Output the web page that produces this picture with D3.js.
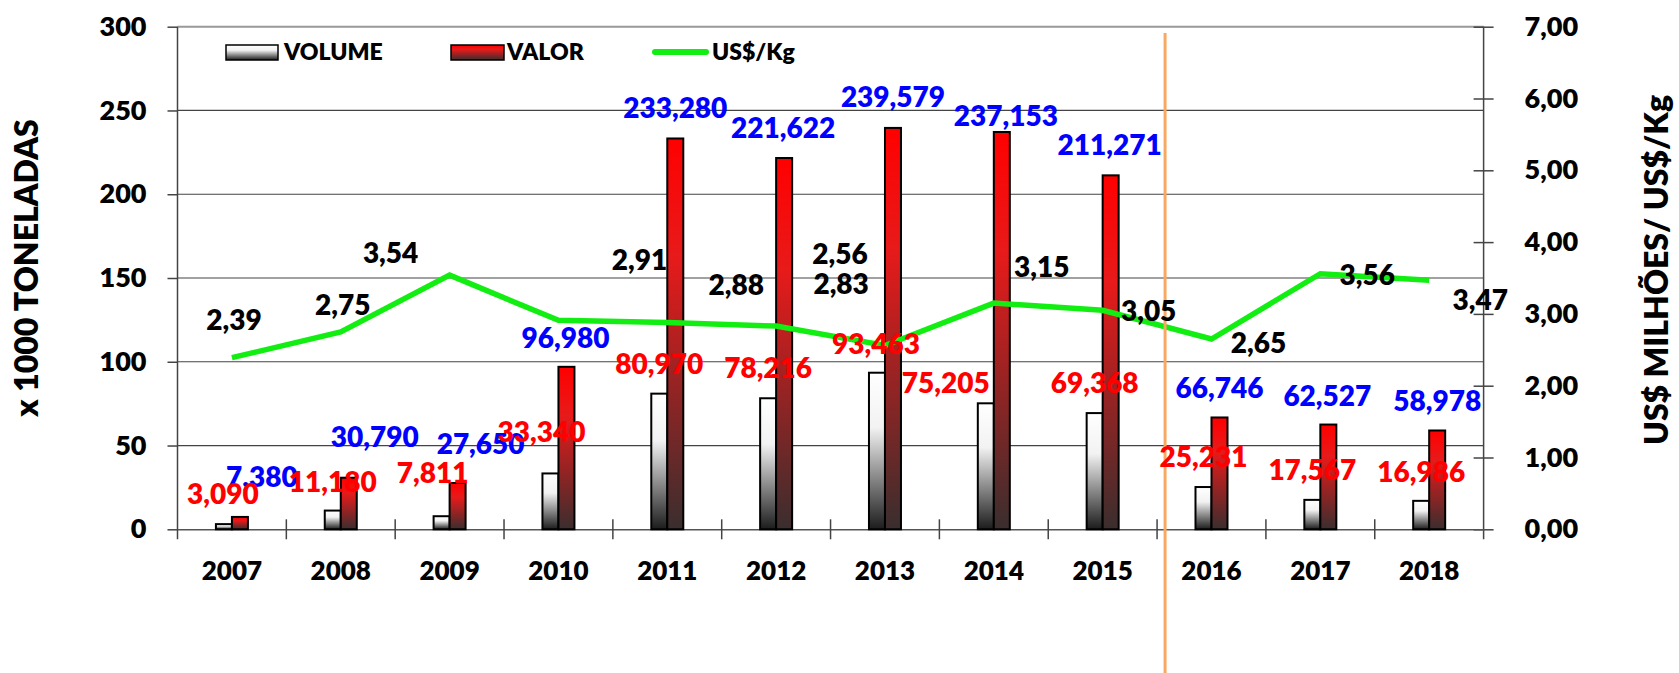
<!DOCTYPE html>
<html>
<head>
<meta charset="utf-8">
<script src="https://cdn.jsdelivr.net/npm/d3@7"></script>
<style>
  body { margin: 0; background: #fff; }
  svg { display: block; font-family: Lato, "Open Sans", sans-serif; font-weight: 800; }
</style>
</head>
<body>
<div id="chart"></div>
<script>
// data
const years = ["2007", "2008", "2009", "2010", "2011", "2012", "2013", "2014", "2015", "2016", "2017", "2018"]
const volume = [3.090, 11.180, 7.811, 33.340, 80.970, 78.216, 93.463, 75.205, 69.368, 25.231, 17.567, 16.986] // x 1000 t
const valor = [7.380, 30.790, 27.650, 96.980, 233.280, 221.622, 239.579, 237.153, 211.271, 66.746, 62.527, 58.978] // US$ milhoes
const price = [2.39, 2.75, 3.54, 2.91, 2.88, 2.83, 2.56, 3.15, 3.05, 2.65, 3.56, 3.47] // US$/Kg
const leftTicks = [0, 50, 100, 150, 200, 250, 300]
const rightTicks = [0, 1, 2, 3, 4, 5, 6, 7]

// labels were moved by hand in the original, keep their shifts [dx, dy]
const valorShift = [[22, -40], [26, -41], [23, -39], [-1, -29], [0, -31], [-1, -30], [0, -31], [4, -16], [-1, -30], [0, -30], [-1, -29], [0, -30]]
const volumeShift = [[-1, -30], [0, -29], [-9, -43], [-9, -42], [0, -30], [0, -30], [-1, -29], [-40, -20], [0, -30], [0, -30], [0, -30], [0, -29]]
const priceShift = [[2, -38], [2, -27], [-59, -22], [81, -60], [69, -38], [65, -42], [-45, -92], [48, -36], [46, 1], [47, 4], [47, 1], [51, 20]]

const W = 1679, H = 673
const plotL = 177.5, plotR = 1483.6, plotT = 26.7, plotB = 529.3
const barW = 16

const fmt3 = v => d3.format(".3f")(v).replace(".", ",")
const fmt2 = v => d3.format(".2f")(v).replace(".", ",")

const svg = d3.select("#chart").append("svg")
    .attr("width", W)
    .attr("height", H)

// gradients for the bars
const defs = svg.append("defs")
const gVol = defs.append("linearGradient").attr("id", "gVol")
    .attr("x1", 0).attr("y1", 0).attr("x2", 0).attr("y2", 1)
gVol.append("stop").attr("offset", "0").attr("stop-color", "#ffffff")
gVol.append("stop").attr("offset", "0.35").attr("stop-color", "#f2f2f2")
gVol.append("stop").attr("offset", "1").attr("stop-color", "#1c1c1c")
const gVal = defs.append("linearGradient").attr("id", "gVal")
    .attr("x1", 0).attr("y1", 0).attr("x2", 0).attr("y2", 1)
gVal.append("stop").attr("offset", "0").attr("stop-color", "#ff0000")
gVal.append("stop").attr("offset", "0.3").attr("stop-color", "#e81a1a")
gVal.append("stop").attr("offset", "1").attr("stop-color", "#3a2e2e")

// scales
const x = d3.scaleBand().domain(years).range([plotL, plotR])
const yL = d3.scaleLinear().domain([0, 300]).range([plotB, plotT])
const yR = d3.scaleLinear().domain([0, 7]).range([plotB, plotT])
const cx = (d, i) => x(years[i]) + x.bandwidth() / 2

// gridlines
svg.append("g").selectAll("line")
    .data(leftTicks.filter(t => t > 0))
    .join("line")
    .attr("x1", plotL).attr("x2", plotR)
    .attr("y1", d => yL(d)).attr("y2", d => yL(d))
    .attr("stroke", d => d == 300 ? "#999" : "#444")
    .attr("stroke-width", d => d == 300 ? 2 : 1.2)

// left axis
const axL = svg.append("g")
    .attr("transform", `translate(${plotL},0)`)
    .call(d3.axisLeft(yL).tickValues(leftTicks).tickSize(10).tickSizeOuter(0).tickPadding(21))
axL.select(".domain").attr("stroke", "#444").attr("stroke-width", 1.5).attr("d", `M0,${plotT}V${plotB + 10}`)
axL.selectAll(".tick line").attr("stroke", "#444").attr("stroke-width", 1.5)
axL.selectAll("text").attr("font-size", 27).attr("font-family", "Lato").attr("font-weight", 800).attr("fill", "#000")

// right axis with crossing ticks
const axR = svg.append("g")
    .attr("transform", `translate(${plotR},0)`)
    .call(d3.axisRight(yR).tickValues(rightTicks).tickFormat(fmt2).tickSize(10).tickSizeOuter(0).tickPadding(31))
axR.select(".domain").attr("stroke", "#444").attr("stroke-width", 1.5).attr("d", `M0,${plotT}V${plotB + 10}`)
axR.selectAll(".tick line").attr("x1", -10).attr("stroke", "#444").attr("stroke-width", 1.5)
axR.selectAll("text").attr("font-size", 27).attr("font-family", "Lato").attr("font-weight", 800).attr("fill", "#000")

// bottom axis: ticks between categories
const axB = svg.append("g")
    .attr("transform", `translate(0,${plotB})`)
    .call(d3.axisBottom(x).tickSize(0).tickPadding(32))
axB.select(".domain").attr("stroke", "#555").attr("stroke-width", 1.5)
axB.selectAll("text").attr("font-size", 26).attr("font-family", "Lato").attr("font-weight", 800).attr("fill", "#000")
axB.selectAll("line.sep")
    .data(years.slice(1))
    .join("line")
    .attr("class", "sep")
    .attr("x1", d => x(d)).attr("x2", d => x(d))
    .attr("y1", -10).attr("y2", 10)
    .attr("stroke", "#444").attr("stroke-width", 1.5)

// bars
svg.append("g").selectAll("rect")
    .data(volume)
    .join("rect")
    .attr("x", (d, i) => cx(d, i) - barW)
    .attr("y", d => yL(d))
    .attr("width", barW)
    .attr("height", d => plotB - yL(d))
    .attr("fill", "url(#gVol)")
    .attr("stroke", "#000")
    .attr("stroke-width", 2)
svg.append("g").selectAll("rect")
    .data(valor)
    .join("rect")
    .attr("x", (d, i) => cx(d, i))
    .attr("y", d => yL(d))
    .attr("width", barW)
    .attr("height", d => plotB - yL(d))
    .attr("fill", "url(#gVal)")
    .attr("stroke", "#000")
    .attr("stroke-width", 2)

// price line
const line = d3.line()
    .x((d, i) => cx(d, i))
    .y(d => yR(d))
svg.append("path")
    .datum(price)
    .attr("d", line)
    .attr("fill", "none")
    .attr("stroke", "#12ee12")
    .attr("stroke-width", 5.5)

// orange marker between 2015 and 2016
const sepX = x("2016") + 8
svg.append("line")
    .attr("x1", sepX).attr("x2", sepX)
    .attr("y1", 33).attr("y2", H)
    .attr("stroke", "#f7a862")
    .attr("stroke-width", 3)

// data labels
const labels = svg.append("g").attr("font-size", 28).attr("text-anchor", "middle")
labels.selectAll("text.val")
    .data(valor)
    .join("text")
    .attr("class", "val")
    .attr("x", (d, i) => cx(d, i) + barW / 2 + valorShift[i][0])
    .attr("y", (d, i) => yL(d) + valorShift[i][1])
    .attr("dy", "0.36em")
    .attr("fill", "#0000ff")
    .text(fmt3)
labels.selectAll("text.vol")
    .data(volume)
    .join("text")
    .attr("class", "vol")
    .attr("x", (d, i) => cx(d, i) - barW / 2 + volumeShift[i][0])
    .attr("y", (d, i) => yL(d) + volumeShift[i][1])
    .attr("dy", "0.36em")
    .attr("fill", "#ff0000")
    .text(fmt3)
labels.selectAll("text.pr")
    .data(price)
    .join("text")
    .attr("class", "pr")
    .attr("x", (d, i) => cx(d, i) + priceShift[i][0])
    .attr("y", (d, i) => yR(d) + priceShift[i][1])
    .attr("dy", "0.36em")
    .attr("fill", "#000")
    .text(fmt2)

// legend
const legend = svg.append("g").attr("font-size", 23)
legend.append("rect").attr("x", 226).attr("y", 45).attr("width", 52).attr("height", 15)
    .attr("fill", "url(#gVol)").attr("stroke", "#000").attr("stroke-width", 1.5)
legend.append("text").attr("x", 284).attr("y", 52).attr("dy", "0.36em").text("VOLUME")
legend.append("rect").attr("x", 451).attr("y", 45).attr("width", 53).attr("height", 15)
    .attr("fill", "url(#gVal)").attr("stroke", "#000").attr("stroke-width", 1.5)
legend.append("text").attr("x", 507).attr("y", 52).attr("dy", "0.36em").text("VALOR")
legend.append("line").attr("x1", 655).attr("x2", 706).attr("y1", 52).attr("y2", 52)
    .attr("stroke", "#12ee12").attr("stroke-width", 6).attr("stroke-linecap", "round")
legend.append("text").attr("x", 712).attr("y", 52).attr("dy", "0.36em").text("US$/Kg")

// axis titles
svg.append("text")
    .attr("transform", "translate(26,268) rotate(-90)")
    .attr("text-anchor", "middle")
    .attr("dy", "0.36em")
    .attr("font-size", 32)
    .text("x 1000 TONELADAS")
svg.append("text")
    .attr("transform", "translate(1656,270) rotate(-90)")
    .attr("text-anchor", "middle")
    .attr("dy", "0.36em")
    .attr("font-size", 32)
    .text("US$ MILHÕES/ US$/Kg")
</script>
</body>
</html>
